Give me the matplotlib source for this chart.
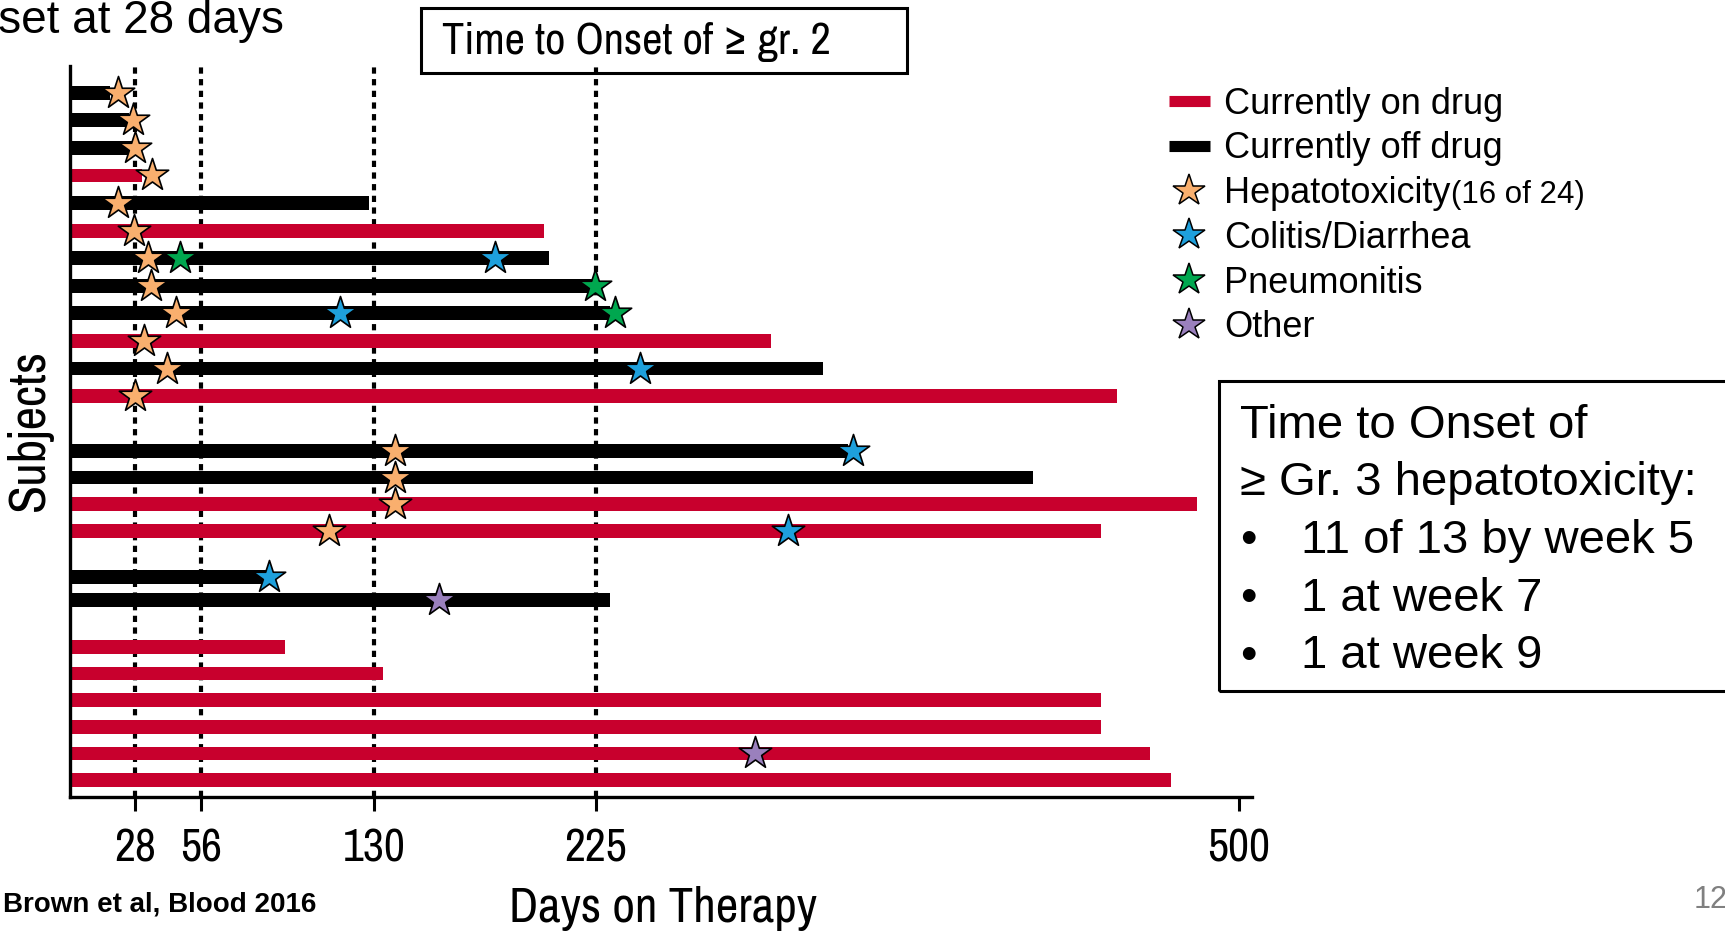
import matplotlib
matplotlib.use("Agg")
import matplotlib.pyplot as plt
from matplotlib import font_manager
from matplotlib.lines import Line2D
from matplotlib.patches import Rectangle

# look for a condensed sans face; fall back to a regular one scaled down
narrow_faces = []
for f in font_manager.fontManager.ttflist:
    if f.stretch in ("condensed", "semi-condensed", "extra-condensed", "ultra-condensed") \
            or "Narrow" in f.name or "Condensed" in f.name:
        w = f.weight if isinstance(f.weight, int) else 400
        narrow_faces.append((f.name, f.stretch, w))
narrow_faces.sort()
if narrow_faces:
    NARROW, NSTRETCH, _ = narrow_faces[0]
    NSCALE = 1.0
else:
    NARROW, NSTRETCH = "Liberation Sans", "normal"
    NSCALE = 0.85
bold_narrow = [n for n in narrow_faces if n[0] == NARROW and n[2] >= 600]
SANS = "Liberation Sans"

RED = "#c8002d"

# one row per subject, top to bottom (row slot on the y axis)
subject_slot = [0, 1, 2, 3, 4, 5, 6, 7, 8, 9, 10, 11,
                13, 13.95, 14.9, 15.9, 17.55, 18.4,
                20.1, 21.05, 22, 23, 23.95, 24.9]
days_on_therapy = [17, 25.5, 26.5, 31, 128, 203, 205, 224, 231, 300, 322, 448,
                   333, 412, 482, 441, 85, 231,
                   92, 134, 441, 441, 462, 471]
on_drug = [False, False, False, True, False, True, False, False, False, True, False, True,
           False, False, True, True, False, False,
           True, True, True, True, True, True]

# adverse events: subject index and day of onset
hep_subject = [0, 1, 2, 3, 4, 5, 6, 7, 8, 9, 10, 11, 12, 13, 14, 15]
hep_day = [20.5, 27, 28, 35, 20.5, 27.5, 33.5, 34.5, 45.5, 31.5, 41.5, 28, 139, 139, 139, 111]
colitis_subject = [6, 8, 10, 12, 15, 16]
colitis_day = [182, 115.5, 244, 335, 307, 85]
pneum_subject = [6, 7, 8]
pneum_day = [47, 224.7, 233]
other_subject = [17, 22]
other_day = [158, 293]

milestones = [28, 56, 130, 225]
xticks = [28, 56, 130, 225, 500]

event_sets = [
    (hep_subject, hep_day, "#f9af6e"),
    (colitis_subject, colitis_day, "#1ea0dc"),
    (pneum_subject, pneum_day, "#00a74f"),
    (other_subject, other_day, "#9a80bd"),
]

fig = plt.figure(figsize=(17.25, 9.32), dpi=100)
ax = fig.add_axes([0.0405, 0.1445, 0.6852, 0.7845])

for m in milestones:
    ax.axvline(m, color="black", lw=3, ls=(0, (1.5, 1.3)), zorder=1)

colors = [RED if s else "black" for s in on_drug]
ax.barh(subject_slot, days_on_therapy, height=0.5, color=colors, zorder=2)

for subj, day, col in event_sets:
    ys = [subject_slot[i] for i in subj]
    ax.scatter(day, ys, marker="*", s=600, c=col, edgecolors="black",
               linewidths=1.2, zorder=4, clip_on=False)

narrow = dict(family=NARROW, stretch=NSTRETCH)

ax.set_xlim(0, 505.6)
ax.set_ylim(25.54, -0.96)
ax.set_yticks([])
ax.set_xticks(xticks)
ax.set_xticklabels([str(t) for t in xticks], fontsize=33 * NSCALE, **narrow)
ax.tick_params(axis="x", length=10, width=2.2, pad=12)
for side in ["top", "right"]:
    ax.spines[side].set_visible(False)
for side in ["left", "bottom"]:
    ax.spines[side].set_linewidth(2.4)

fig.text(0.3843, 0.025, "Days on Therapy", fontsize=35.5 * NSCALE,
         ha="center", va="center", **narrow)
fig.text(0.0172, 0.5386, "Subjects", fontsize=37 * NSCALE,
         rotation=90, ha="center", va="center", **narrow)
if bold_narrow:
    fig.text(0.002, 0.029, "Brown et al, Blood 2016", fontsize=25 * NSCALE,
             weight="bold", ha="left", va="center", **narrow)
else:
    fig.text(0.002, 0.029, "Brown et al, Blood 2016", family=SANS, fontsize=20,
             weight="bold", ha="left", va="center")
fig.text(0.982, 0.034, "12", family=SANS, fontsize=22, color="#808080",
         ha="left", va="center")
fig.text(0.1646, 0.978, "Onset at 28 days", family=SANS, fontsize=33,
         ha="right", va="center")

# top box
fig.add_artist(Rectangle((0.244, 0.922), 0.282, 0.0697, transform=fig.transFigure,
                         fill=False, ec="black", lw=2.2))
fig.text(0.2563, 0.955, "Time to Onset of ≥ gr. 2", fontsize=32 * NSCALE,
         ha="left", va="center", **narrow)

# right box
fig.add_artist(Rectangle((0.7067, 0.2586), 0.31, 0.3328, transform=fig.transFigure,
                         fill=False, ec="black", lw=2.2))
box_lines = ["Time to Onset of", "≥ Gr. 3 hepatotoxicity:"]
bullets = ["11 of 13 by week 5", "1 at week 7", "1 at week 9"]
y0 = 1 - 425.5 / 932
step = 57.75 / 932
for i, t in enumerate(box_lines):
    fig.text(0.7188, y0 - i * step, t, family=SANS, fontsize=34, ha="left", va="center")
for i, t in enumerate(bullets):
    yy = y0 - (i + 2) * step
    fig.text(0.7188, yy, "•", family=SANS, fontsize=34, ha="left", va="center")
    fig.text(0.7542, yy, t, family=SANS, fontsize=34, ha="left", va="center")

# legend
handles = [
    Line2D([], [], color=RED, lw=8, solid_capstyle="butt"),
    Line2D([], [], color="black", lw=8, solid_capstyle="butt"),
]
labels = ["Currently on drug", "Currently off drug", "Hepatotoxicity",
          "Colitis/Diarrhea", "Pneumonitis", "Other"]
for _, _, col in event_sets:
    handles.append(Line2D([], [], ls="none", marker="*", markersize=24,
                          markerfacecolor=col, markeredgecolor="black",
                          markeredgewidth=1.1))
leg = fig.legend(handles, labels, loc="upper left", bbox_to_anchor=(0.6777, 0.907),
                 frameon=False, prop={"family": SANS, "size": 26},
                 handlelength=1.13, handletextpad=0.4, labelspacing=0.27,
                 borderpad=0, borderaxespad=0)
hep_text = leg.get_texts()[2]
extra = fig.text(0, 0, "(16 of 24)", family=SANS, fontsize=22.5, ha="left", va="baseline")
fig.canvas.draw()
bb = hep_text.get_window_extent()
extra.set_position((bb.x1 / fig.bbox.width, (bb.y0 + 8) / fig.bbox.height))

fig.savefig("out.png", dpi=100)
